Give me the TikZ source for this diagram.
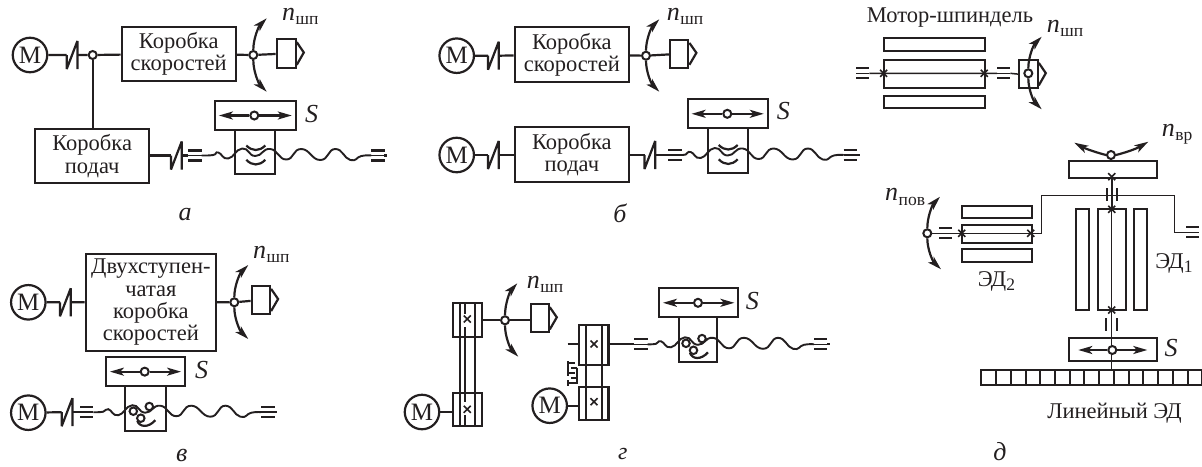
\documentclass[tikz,border=0pt]{standalone}
\usepackage{fontspec}
\setmainfont{Liberation Serif}
\usetikzlibrary{arrows.meta,calc}
\definecolor{ink}{HTML}{231F20}
\tikzset{
  ln/.style={draw=ink,line width=2.2pt,line join=miter},
  thin ln/.style={draw=ink,line width=1.5pt},
  boxn/.style={ln,rectangle,inner sep=0pt,align=center,text=ink,font=\fontsize{22.5}{22.3}\selectfont},
  motor/.style={ln,circle,minimum size=34.5pt,inner sep=0pt,text=ink,font=\fontsize{25}{25}\selectfont},
  junc/.style={draw=ink,line width=2pt,circle,fill=white,minimum size=8pt,inner sep=0pt},
  lab/.style={text=ink,inner sep=0pt,font=\fontsize{22.5}{23}\selectfont},
  captxt/.style={text=ink,inner sep=0pt,font=\fontsize{26}{26}\selectfont\itshape},
  tipped/.style={ln,-{Stealth[length=14pt,width=8pt,inset=3.5pt]}},
}
\newcommand\rnode[6]{%
  \pgfmathsetmacro\cxx{(#2+#4)/2}\pgfmathsetmacro\cyy{(#3+#5)/2}%
  \pgfmathsetmacro\www{#4-#2}\pgfmathsetmacro\hhh{#5-#3}%
  \node[boxn,minimum width=\www pt,minimum height=\hhh pt] (#1) at (\cxx,\cyy) {#6};}
\newcommand\clutch[3]{%
  \coordinate (#1-l) at (#2,#3);
  \coordinate (#1-r) at ($(#2,#3)+(10.7,0)$);
  \draw[ln,line join=bevel] (#2,#3) -- ++(0,14) -- ++(10.7,-28) -- ++(0,28);}
\newcommand\spin[5]{% name x1 y1 x2 y2
  \rnode{#1}{#2}{#3}{#4}{#5}{}
  \draw[ln] ($(#1.north east)+(0,4)$) -- ($(#1.east)+(7,-1)$) -- ($(#1.south east)+(0,-4)$);}
\newcommand\arcs[7]{% node jx jy t1x t1y t2x t2y
  \draw[tipped] (#1.north) .. controls ({#2},{#3+0.45*(#5-(#3))}) and ({#2+0.4*(#4-(#2))},{#3+0.78*(#5-(#3))}) .. (#4,#5);
  \draw[tipped] (#1.south) .. controls ({#2},{#3+0.45*(#7-(#3))}) and ({#2+0.4*(#6-(#2))},{#3+0.78*(#7-(#3))}) .. (#6,#7);}
\newcommand\nlab[5]{% name x y italic sub
  \node[text=ink,inner sep=0pt,anchor=base west] (#1) at (#2,#3) {\fontsize{26}{26}\selectfont\itshape #4\kern0.5pt\raisebox{-4.5pt}{\fontsize{17.5}{17.5}\selectfont\upshape #5}};}
\newcommand\slabel[3]{\node[text=ink,inner sep=0pt] (#1) at (#2,#3) {\fontsize{26}{26}\selectfont\itshape S};}
\newcommand\sldbox[6]{% name x1 y1 x2 y2 jx
  \rnode{#1}{#2}{#3}{#4}{#5}{}
  \node[junc] (#1-j) at ({#6},{(#3+#5)/2}) {};
  \draw[tipped] (#1-j) -- ($(#1.west)+(5,0)$);
  \draw[tipped] (#1-j) -- ($(#1.east)+(-5,0)$);}
\newcommand\bearing[3]{% x y name
  \coordinate (#3-l) at (#1,#2);
  \coordinate (#3-r) at ($(#1,#2)+(13.3,0)$);
  \draw[ln] ($(#3-l)+(0,-5)$) -- ($(#3-r)+(0,-5)$);
  \draw[ln] ($(#3-l)+(0,5)$) -- ($(#3-r)+(0,5)$);
  \draw[thin ln] (#3-l) -- (#3-r);}
% screw: name cx y leftrel
\newcommand\screw[4]{%
  \begin{scope}[shift={(#2,#3)}]
    \bearing{#4}{0}{#1-a}
    \bearing{116}{0}{#1-b}
    \draw[ln,line width=1.9pt] plot[smooth,tension=0.9] coordinates {(#4+13.3,0) (-42,-0.5) (-37,-3) (-27,3) (-13,-7) (0,0.5) (15,-6.5) (31,4) (46,-6.5) (65,4.5) (80,-6.5) (95,4.5) (106,0.5) (116,0)};
    \draw[ln] (129,0) -- (132,0);
  \end{scope}}
\newcommand\chev[2]{%
  \begin{scope}[shift={(#1,#2)}]
    \draw[ln] (-9,-10) .. controls (-3,-4) and (4,-4) .. (10,-10);
    \draw[ln] (-9,4.3) .. controls (-3,10.5) and (4,10.5) .. (10,4.3);
  \end{scope}}
\newcommand\balls[2]{%
  \begin{scope}[shift={(#1,#2)}]
    \draw[ln] (-8,8.5) .. controls (-6,15) and (3,16) .. (10,8);
    \node[junc,minimum size=7.5pt] (b1) at (-12,-1) {};
    \node[junc,minimum size=7.5pt] (b2) at (4,-5.7) {};
    \node[junc,minimum size=7.5pt] (b3) at (-4.5,6) {};
  \end{scope}}
\newcommand\xmk[2]{\draw[ink,line width=1.6pt] ($(#1,#2)+(-3.5,-3.5)$) -- ($(#1,#2)+(3.5,3.5)$) ($(#1,#2)+(-3.5,3.5)$) -- ($(#1,#2)+(3.5,-3.5)$);}
\begin{document}
\begin{tikzpicture}[x=1pt,y=-1pt]
\useasboundingbox (0,0) rectangle (1202,466);
%% ---------- a ----------
\node[motor] (am) at (30,55) {М};
\clutch{acl}{66.7}{55}
\node[junc] (aj) at (92.7,55) {};
\rnode{ak}{121.7}{26.7}{235.7}{81}{Коробка\\скоростей}
\node[junc] (aj2) at (253.3,55) {};
\spin{asp}{276.7}{39.3}{295.7}{67.7}
\draw[ln] (am) -- (acl-l) (acl-r) -- (aj) (aj) -- (ak) (ak) -- (aj2) (aj2) -- (asp);
\arcs{aj2}{253.3}{55}{266.7}{18.3}{266.7}{91.7}
\nlab{an}{282}{20}{n}{шп}
\sldbox{as}{215}{101}{295.7}{130}{254.3}
\slabel{asl}{311.7}{114}
\rnode{an1}{235.3}{130}{275.3}{174.3}{}
\rnode{ap}{35}{129}{149.3}{183.3}{Коробка\\подач}
\draw[ln] (aj) -- (aj |- ap.north);
\clutch{acl2}{171}{155.5}
\draw[ln] (ap.east |- acl2-l) -- (acl2-l);
\screw{asc}{255.3}{155.5}{-67}
\draw[ln] (acl2-r) -- (asc-a-l);
\chev{255.3}{155.5}
\node[captxt] (acap) at (185,215) {а};
%% ---------- b ----------
\node[motor] (bm) at (456.7,55.7) {М};
\clutch{bcl}{488}{55.7}
\rnode{bk}{514.7}{27.3}{629}{81.7}{Коробка\\скоростей}
\node[junc] (bj) at (646,55.7) {};
\spin{bsp}{670}{40}{688.3}{67.7}
\draw[ln] (bm) -- (bcl-l) (bcl-r) -- (bk) (bk) -- (bj) (bj) -- (bsp);
\arcs{bj}{646}{55.7}{659.3}{19.3}{659.3}{91.7}
\nlab{bn}{666.7}{20}{n}{шп}
\sldbox{bs}{687.7}{99.3}{767.7}{128.3}{727.3}
\slabel{bsl}{783.3}{111.5}
\rnode{bn1}{707.7}{128.3}{747.7}{173.3}{}
\node[motor] (bm2) at (456.7,155) {М};
\clutch{bcl2}{488}{155}
\rnode{bp}{514.7}{127.3}{629}{182.3}{Коробка\\подач}
\clutch{bcl3}{644.5}{155}
\draw[ln] (bm2) -- (bcl2-l) (bcl2-r) -- (bp.west |- bcl2-r) (bp.east |- bcl3-l) -- (bcl3-l);
\screw{bsc}{727.7}{155}{-59.5}
\draw[ln] (bcl3-r) -- (bsc-a-l);
\chev{727.7}{155}
\node[captxt] (bcap) at (620,213) {б};
%% ---------- v ----------
\node[motor] (vm) at (28.3,302.3) {М};
\clutch{vcl}{60}{302.3}
\rnode{vk}{85.7}{254}{216}{350.7}{Двухступен-\\чатая\\коробка\\скоростей}
\node[junc] (vj) at (234.3,302.3) {};
\spin{vsp}{251.7}{286}{270}{314}
\draw[ln] (vm) -- (vcl-l) (vcl-r) -- (vk) (vk) -- (vj) (vj) -- (vsp);
\arcs{vj}{234.3}{302.3}{248.3}{265}{248.3}{339}
\nlab{vn}{253}{258.3}{n}{шп}
\sldbox{vs}{106}{357.3}{185}{386}{144.7}
\slabel{vsl}{201.7}{370}
\rnode{vn1}{125}{386}{166}{431}{}
\node[motor] (vm2) at (28.3,412.7) {М};
\clutch{vcl2}{61.7}{412.2}
\draw[ln] (vm2) -- (vcl2-l);
\screw{vsc}{145.3}{412.2}{-65.3}
\draw[ln] (vcl2-r) -- (vsc-a-l);
\balls{145.3}{412.2}
\node[captxt] (vcap) at (181.7,455) {в};
%% ---------- g ----------
\node[motor] (gm) at (422,412) {М};
\rnode{gp1}{452.7}{303.3}{482}{337.3}{}
\rnode{gp2}{452.7}{392.7}{482}{426}{}
\rnode{gb}{459.7}{303.3}{475.3}{426}{}
\draw[ln] (gm) -- (gp2.west |- gm);
\draw[ln] (465,303.3) -- (465,314) (465,327) -- (465,401.7) (465,415) -- (465,426);
\xmk{467.3}{319}
\xmk{467.3}{409.3}
\node[junc] (gj) at (505,320.3) {};
\spin{gsp}{530.7}{304.3}{548.7}{332.3}
\draw[ln] (gp1.east |- gj) -- (gj) (gj) -- (gsp.west |- gj);
\arcs{gj}{505}{320.3}{517.3}{283.3}{518.3}{356.7}
\nlab{gn}{526.7}{288}{n}{шп}
\rnode{gq1}{579.3}{325}{608.5}{365}{}
\rnode{gq2}{579.3}{386.7}{608.5}{420}{}
\rnode{gc}{586.3}{325}{601.7}{420}{}
\xmk{594}{344}
\xmk{594}{401.7}
\coordinate (gstub) at (567.7,343.7);
\draw[ln] (gstub) -- (gq1.west |- gstub);
\node[motor] (gm2) at (549.7,405.7) {М};
\draw[ln] (gm2) -- (gq2.west |- gm2);
\draw[ln,line width=1.8pt] (568.3,361) -- (568.3,376) (568.3,363) -- (575,363) (568.3,373) -- (575,373)
  (577,367.5) -- (577,384) (577,368) -- (571,368) (577,378) -- (571,378) (577,383) -- (568.3,383) (568.3,380) -- (568.3,386);
\sldbox{gs}{659}{288.3}{738.3}{317.3}{698}
\slabel{gsl}{752.3}{300.7}
\rnode{gn1}{679}{317.3}{717.3}{362.3}{}
\screw{gsc}{698}{344.3}{-63.7}
\draw[ln] (gq1.east |- gsc-a-l) -- (gsc-a-l);
\balls{698}{344.3}
\node[text=ink,inner sep=0pt,font=\fontsize{24}{24}\selectfont\itshape] (gcap) at (622.7,454) {г};
%% ---------- d ----------
\node[lab] (dt) at (950,18) {Мотор-шпиндель};
\rnode{d1}{884}{38.3}{984.7}{50.7}{}
\rnode{d2}{884}{60}{984.7}{87.7}{}
\rnode{d3}{884}{96}{984.7}{108.3}{}
\bearing{856}{73.3}{dbl}
\bearing{997}{73.3}{dbr}
\spin{dsp}{1019.3}{60}{1037.7}{88.3}
\node[junc] (dj) at (1028.3,73.3) {};
\draw[thin ln] (dbl-r) -- (dbr-l) (dbr-r) -- (dsp.west);
\xmk{883.6}{73.3}
\xmk{984.2}{73.3}
\arcs{dj}{1028.3}{73.3}{1041.7}{36.7}{1041.7}{109.3}
\nlab{dn}{1046.7}{32}{n}{шп}
%
\node[junc] (dv) at (1111,155) {};
\draw[tipped] (dv.west) .. controls (1098,153) and (1086,149) .. (1074.3,142.7);
\draw[tipped] (dv.east) .. controls (1124,153) and (1136,149) .. (1148.3,141.7);
\nlab{dnv}{1161.7}{136}{n}{вр}
\rnode{dt1}{1069}{161}{1156.7}{177.7}{}
\rnode{de1}{1075.7}{209.3}{1088.7}{310}{}
\rnode{de2}{1098.3}{209.3}{1126}{310}{}
\rnode{de3}{1134}{209.3}{1147}{310}{}
\rnode{dsb}{1069}{338.3}{1156.7}{360.7}{}
\draw[thin ln] (1111.7,177) -- (1111.7,370);
\draw[thin ln,line width=2pt] (1111.7,177) -- (1111.7,209);
\xmk{1111.7}{176.7}
\xmk{1111.7}{209.3}
\xmk{1111.7}{310}
\draw[ln] (1106.7,188.3) -- (1106.7,200.7) (1116.7,188.3) -- (1116.7,200.7);
\draw[ln] (1106.3,318.3) -- (1106.3,330.7) (1116.7,318.3) -- (1116.7,330.7);
\node[junc] (dsj) at (1112.3,350) {};
\draw[tipped] (dsj) -- (1078.3,350);
\draw[tipped] (dsj) -- (1147.3,350);
\slabel{dsl}{1171}{348.5}
\node[lab] (dl1) at (1174,263.3) {ЭД\raisebox{-4pt}{\fontsize{17.5}{17.5}\selectfont 1}};
%
\rnode{df1}{961.7}{206}{1031.7}{218.3}{}
\rnode{df2}{961.7}{225}{1031.7}{243.3}{}
\rnode{df3}{961.7}{249.3}{1031.7}{261.7}{}
\node[junc] (dp) at (927.3,233.3) {};
\bearing{939}{233.3}{dbp}
\bearing{1186}{232.3}{dbq}
\draw[thin ln] (dp) -- (dbp-l) (dbp-r) -- (1041.7,233.3) -- (1041.7,195.7) -- (1174.3,195.7) -- (1174.3,232.3) -- (dbq-l);
\xmk{961.7}{233.3}
\xmk{1030.7}{233.3}
\arcs{dp}{927.3}{233.3}{940}{196.7}{941}{269.3}
\nlab{dnp}{885}{200.5}{n}{пов}
\node[lab] (dl2) at (996.5,281.7) {ЭД\raisebox{-4pt}{\fontsize{17.5}{17.5}\selectfont 2}};
%
\foreach \i in {0,...,14}{\draw[ln,line width=2pt] ({981.3+\i*14.73},370) rectangle ({981.3+(\i+1)*14.73},385);}
\node[lab] (dll) at (1114.5,412.7) {Линейный ЭД};
\node[captxt] (dcap) at (1000,452) {д};
\end{tikzpicture}
\end{document}
